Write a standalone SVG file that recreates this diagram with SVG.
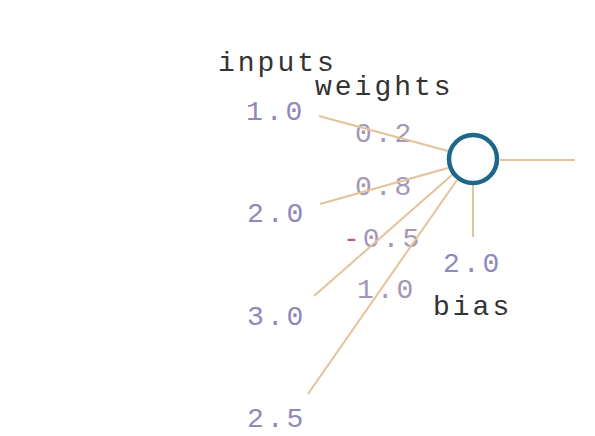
<svg xmlns="http://www.w3.org/2000/svg" width="595" height="436" viewBox="0 0 595 436">
<style>
text{font-family:"Liberation Mono","DejaVu Sans Mono",monospace;font-size:28px;letter-spacing:3px}
.lbl{fill:#333}
.num{fill:#8f88bd}
.w{fill:#a397b5}
.neg{fill:#c2567a}
.edge{stroke:#e3c29c;stroke-width:2;fill:none}
</style>
<rect width="595" height="436" fill="#fff"/>
<g id="labels">
<text class="lbl" x="218" y="71">inputs</text>
<text class="lbl" x="315" y="95">weights</text>
<text class="lbl" x="433" y="315">bias</text>
</g>
<g id="input-1"><text class="num" x="246" y="120">1.0</text></g>
<g id="input-2"><text class="num" x="247" y="222">2.0</text></g>
<g id="input-3"><text class="num" x="247" y="325">3.0</text></g>
<g id="input-4"><text class="num" x="247" y="427">2.5</text></g>
<g id="weights">
<text class="w" x="355" y="142">0.2</text>
<text class="w" x="355" y="195">0.8</text>
<text class="w" x="343" y="247"><tspan class="neg">-</tspan>0.5</text>
<text class="w" x="357" y="298">1.0</text>
</g>
<g id="bias"><text class="num" x="443" y="272">2.0</text></g>
<g id="connectors">
<line class="edge" x1="319" y1="116" x2="448" y2="151"/>
<line class="edge" x1="320" y1="204" x2="448" y2="168"/>
<line class="edge" x1="314" y1="296" x2="452" y2="175"/>
<line class="edge" x1="308" y1="394" x2="457" y2="180"/>
<line class="edge" x1="473" y1="185" x2="473" y2="237"/>
<line class="edge" x1="500" y1="160" x2="575" y2="160"/>
</g>
<g id="neuron"><circle cx="473" cy="159" r="24" fill="#fff" stroke="#1f6789" stroke-width="4.5"/></g>
</svg>
